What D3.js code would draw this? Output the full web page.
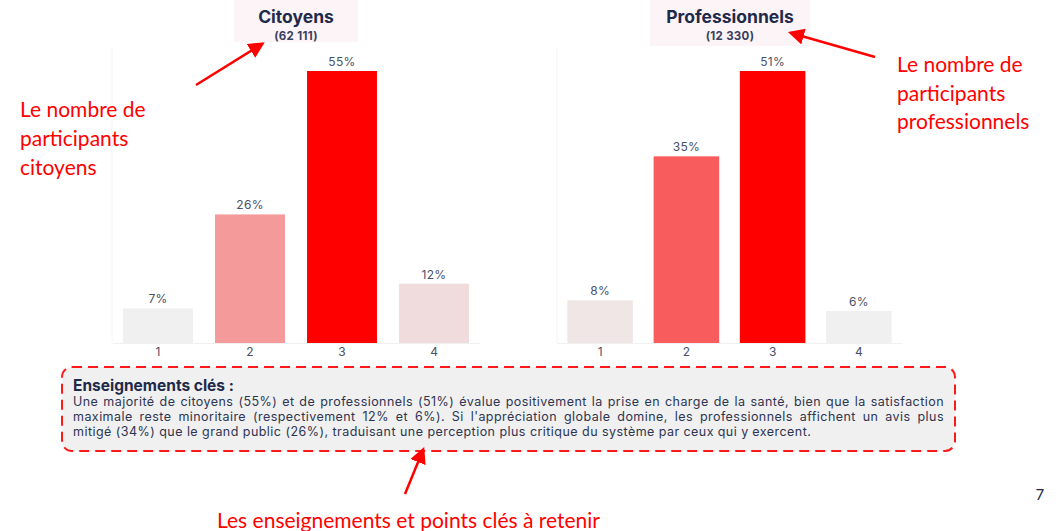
<!DOCTYPE html>
<html>
<head>
<meta charset="utf-8">
<script src="https://cdn.jsdelivr.net/npm/d3@7"></script>
<style>
  body { margin: 0; background: #fff; }
  svg { display: block; }
</style>
</head>
<body>
<div id="chart"></div>
<script>
// data
var categories = ["1", "2", "3", "4"];
var citoyensValues = [7, 26, 55, 12];
var proValues = [8, 35, 51, 6];
var citoyensColors = ["#f0f0f0", "#f49a9a", "#ff0000", "#f0dcdc"];
var proColors = ["#f0e6e6", "#f95c5c", "#ff0000", "#f0f0f0"];
var panelTitles = ["Citoyens", "Professionnels"];
var panelCounts = ["(62 111)", "(12 330)"];
var keyTitle = "Enseignements clés :";
var keyLines = [
    "Une majorité de citoyens (55%) et de professionnels (51%) évalue positivement la prise en charge de la santé, bien que la satisfaction",
    "maximale reste minoritaire (respectivement 12% et 6%). Si l'appréciation globale domine, les professionnels affichent un avis plus",
    "mitigé (34%) que le grand public (26%), traduisant une perception plus critique du système par ceux qui y exercent."
];

var svgWidth = 1064;
var svgHeight = 531;
var baseY = 343;
var topY = 71;
var textColor = "#4a5068";
var navy = "#1f2a4a";

var svg = d3.select("#chart")
    .append("svg")
    .attr("width", svgWidth)
    .attr("height", svgHeight);

// one bar panel
function drawPanel(values, colors, range, title, count, box) {
    var g = svg.append("g");

    var x = d3.scaleBand()
        .domain(categories)
        .range(range)
        .paddingInner(0.24)
        .paddingOuter(0.12);

    var y = d3.scaleLinear()
        .domain([0, d3.max(values)])
        .range([baseY, topY]);

    // faint panel frame
    g.append("line")
        .attr("x1", range[0]).attr("x2", range[0])
        .attr("y1", 48).attr("y2", baseY)
        .attr("stroke", "#f4f4f4");

    // title box
    g.append("rect")
        .attr("x", box[0]).attr("y", 0)
        .attr("width", box[1] - box[0]).attr("height", box[2])
        .attr("fill", "#fcf4f7");
    g.append("text")
        .attr("x", (box[0] + box[1]) / 2).attr("y", 23)
        .attr("text-anchor", "middle")
        .attr("font-family", "Inter")
        .attr("font-weight", 700)
        .attr("font-size", 17.5)
        .attr("fill", navy)
        .text(title);
    g.append("text")
        .attr("x", (box[0] + box[1]) / 2).attr("y", 39.5)
        .attr("text-anchor", "middle")
        .attr("font-family", "Inter")
        .attr("font-weight", 700)
        .attr("font-size", 11.5)
        .attr("letter-spacing", 0.3)
        .attr("fill", "#3a4060")
        .text(count);

    var axis = g.append("g")
        .attr("transform", `translate(0, ${baseY})`)
        .call(d3.axisBottom(x).tickSize(0).tickPadding(4));
    axis.select(".domain").attr("stroke", "#f0f0f0");
    axis.selectAll("text")
        .attr("font-family", "Inter")
        .attr("font-size", 12)
        .attr("fill", textColor);

    g.selectAll("rect.bar")
        .data(values)
        .enter()
        .append("rect")
        .attr("class", "bar")
        .attr("x", (d, i) => x(categories[i]))
        .attr("y", d => y(d))
        .attr("width", x.bandwidth())
        .attr("height", d => baseY - y(d))
        .attr("fill", (d, i) => colors[i]);

    g.selectAll("text.val")
        .data(values)
        .enter()
        .append("text")
        .attr("class", "val")
        .attr("x", (d, i) => x(categories[i]) + x.bandwidth() / 2)
        .attr("y", d => y(d) - 5)
        .attr("text-anchor", "middle")
        .attr("font-family", "Inter")
        .attr("font-size", 12)
        .attr("letter-spacing", 0.3)
        .attr("fill", textColor)
        .text(d => d + "%");
}

drawPanel(citoyensValues, citoyensColors, [112, 480], panelTitles[0], panelCounts[0], [234, 358, 42]);
drawPanel(proValues, proColors, [557, 902], panelTitles[1], panelCounts[1], [650, 810, 46]);

// key box
svg.append("rect")
    .attr("x", 62).attr("y", 367)
    .attr("width", 893).attr("height", 84)
    .attr("rx", 10)
    .attr("fill", "#f0f0f0")
    .attr("stroke", "#ff1a1a")
    .attr("stroke-width", 2)
    .attr("stroke-dasharray", "10,6");

svg.append("text")
    .attr("x", 73).attr("y", 391)
    .attr("font-family", "Inter")
    .attr("font-weight", 700)
    .attr("font-size", 15.5)
    .attr("fill", navy)
    .text(keyTitle);

// justified lines: spread words over the width
var textLeft = 73, textRight = 944;
keyLines.forEach(function (line, li) {
    var words = line.split(" ");
    var t = svg.append("text")
        .attr("y", 406 + li * 15)
        .attr("font-family", "Inter")
        .attr("font-size", 12.5)
        .attr("letter-spacing", 0.45)
        .attr("fill", "#2e3550");
    var spans = words.map(w => t.append("tspan").text(w));
    var widths = spans.map(s => s.node().getComputedTextLength());
    var total = d3.sum(widths);
    var gap = li < keyLines.length - 1
        ? (textRight - textLeft - total) / (words.length - 1)
        : 4;
    var cx = textLeft;
    spans.forEach(function (s, i) {
        s.attr("x", cx);
        cx += widths[i] + gap;
    });
});

// red annotations
var annoFont = "Lato";
function annotate(lines, x, y0, step) {
    var t = svg.append("text")
        .attr("font-family", annoFont)
        .attr("font-size", 21)
        .attr("fill", "#ff0000");
    lines.forEach(function (l, i) {
        t.append("tspan").attr("x", x).attr("y", y0 + i * step).text(l);
    });
}
annotate(["Le nombre de", "participants", "citoyens"], 20, 117, 29);
annotate(["Le nombre de", "participants", "professionnels"], 897, 72, 28.5);
annotate(["Les enseignements et points clés à retenir"], 217, 528, 0);

svg.append("defs").append("marker")
    .attr("id", "head")
    .attr("viewBox", "0 0 10 10")
    .attr("refX", 8).attr("refY", 5)
    .attr("markerWidth", 6.5).attr("markerHeight", 6.5)
    .attr("orient", "auto")
    .append("path")
    .attr("d", "M0,0 L10,5 L0,10 z")
    .attr("fill", "#ff0000");

var arrows = [
    [196, 85, 262, 44],
    [875, 57, 791, 33],
    [405, 494, 423, 450]
];
svg.selectAll("line.arrow")
    .data(arrows)
    .enter()
    .append("line")
    .attr("class", "arrow")
    .attr("x1", d => d[0]).attr("y1", d => d[1])
    .attr("x2", d => d[2]).attr("y2", d => d[3])
    .attr("stroke", "#ff0000")
    .attr("stroke-width", 2.5)
    .attr("marker-end", "url(#head)");

// page number
svg.append("text")
    .attr("x", 1040).attr("y", 500)
    .attr("text-anchor", "middle")
    .attr("font-family", "Inter")
    .attr("font-size", 15)
    .attr("fill", navy)
    .text("7");
</script>
</body>
</html>
